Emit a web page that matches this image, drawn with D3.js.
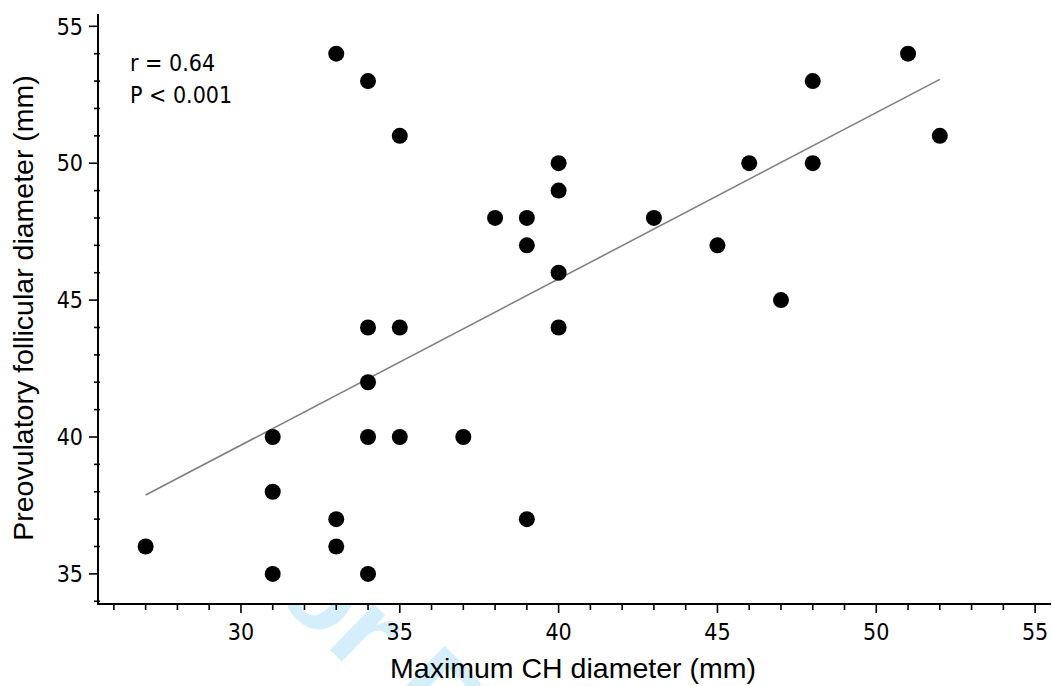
<!DOCTYPE html>
<html>
<head>
<meta charset="utf-8">
<script src="https://cdn.jsdelivr.net/npm/d3@7"></script>
<style>
  html, body { margin: 0; padding: 0; background: #fff; }
  svg { display: block; }
  .tick-lbl { font-family: "DejaVu Sans Condensed", "DejaVu Sans", sans-serif; font-stretch: condensed; font-size: 23px; fill: #000; }
  .axis-title { font-family: "Liberation Sans", Arial, sans-serif; font-size: 28.5px; fill: #000; }
</style>
</head>
<body>
<svg id="chart" width="1052" height="686"></svg>
<script>
// data
const chX = [27, 31, 31, 31, 33, 33, 33, 34, 34, 34, 34, 34, 35, 35, 35, 37,
             38, 39, 39, 39, 40, 40, 40, 40, 43, 45, 46, 47, 48, 48, 51, 52];
const follY = [36, 40, 38, 35, 54, 37, 36, 53, 44, 42, 40, 35, 51, 44, 40, 40,
               48, 48, 47, 37, 50, 49, 46, 44, 48, 47, 50, 45, 53, 50, 54, 51];
const xTicks = [30, 35, 40, 45, 50, 55];
const yTicks = [35, 40, 45, 50, 55];
const statsLines = ['r = 0.64', 'P < 0.001'];

const W = 1052, H = 686;
const svg = d3.select('#chart');

const x = d3.scaleLinear().domain([25.5, 55.5]).range([98, 1051]);
const y = d3.scaleLinear().domain([33.9, 55.45]).range([604, 14]);

// faint watermark, only the part below the x axis shows
svg.append('clipPath').attr('id', 'wm-clip')
  .append('rect').attr('x', 0).attr('y', 605).attr('width', W).attr('height', H - 605);
const wmAngle = 44, wmSize = 120;
const wm = svg.append('g').attr('clip-path', 'url(#wm-clip)')
  .append('text')
  .attr('font-family', 'Liberation Sans, Arial, sans-serif')
  .attr('font-weight', 'bold')
  .attr('font-size', wmSize)
  .attr('fill', '#d4eefb')
  .text('For Peer Review');
// put the "r" of "For" where the reference shows it
const rOff = wm.node().getSubStringLength(0, 2) + 0.07 * wmSize;
const rad = wmAngle * Math.PI / 180;
const ox = 330 - rOff * Math.cos(rad), oy = 650 - rOff * Math.sin(rad);
wm.attr('transform', `translate(${ox},${oy}) rotate(${wmAngle})`);

// axes
const xMinor = d3.range(26, 56).filter(v => v % 5 !== 0);
const yMinor = d3.range(34, 56).filter(v => v % 5 !== 0);

const gx = svg.append('g').attr('transform', `translate(0,${y.range()[0]})`);
gx.append('line').attr('x1', x.range()[0] - 1).attr('x2', x.range()[1])
  .attr('stroke', '#000').attr('stroke-width', 2);
gx.selectAll('line.minor').data(xMinor).join('line')
  .attr('class', 'minor')
  .attr('x1', d => x(d)).attr('x2', d => x(d))
  .attr('y1', 0).attr('y2', 6)
  .attr('stroke', '#000').attr('stroke-width', 1.6);
gx.selectAll('line.major').data(xTicks).join('line')
  .attr('class', 'major')
  .attr('x1', d => x(d)).attr('x2', d => x(d))
  .attr('y1', 0).attr('y2', 9)
  .attr('stroke', '#000').attr('stroke-width', 1.6);
gx.selectAll('text').data(xTicks).join('text')
  .attr('class', 'tick-lbl')
  .attr('x', d => x(d)).attr('y', 36)
  .attr('text-anchor', 'middle')
  .text(d => d);

const gy = svg.append('g').attr('transform', `translate(${x.range()[0]},0)`);
gy.append('line').attr('y1', y.range()[1]).attr('y2', y.range()[0] + 1)
  .attr('stroke', '#000').attr('stroke-width', 2);
gy.selectAll('line.minor').data(yMinor).join('line')
  .attr('class', 'minor')
  .attr('y1', d => y(d)).attr('y2', d => y(d))
  .attr('x1', -4).attr('x2', 2)
  .attr('stroke', '#000').attr('stroke-width', 1.6);
gy.selectAll('line.major').data(yTicks).join('line')
  .attr('class', 'major')
  .attr('y1', d => y(d)).attr('y2', d => y(d))
  .attr('x1', -9).attr('x2', 0)
  .attr('stroke', '#000').attr('stroke-width', 1.6);
gy.selectAll('text').data(yTicks).join('text')
  .attr('class', 'tick-lbl')
  .attr('x', -15).attr('y', d => y(d))
  .attr('dy', '0.36em')
  .attr('text-anchor', 'end')
  .text(d => d);

// least squares fit over the data
const mx = d3.mean(chX), my = d3.mean(follY);
const sxy = d3.sum(chX, (v, i) => (v - mx) * (follY[i] - my));
const sxx = d3.sum(chX, v => (v - mx) * (v - mx));
const slope = sxy / sxx, icpt = my - slope * mx;
const [x0, x1] = d3.extent(chX);

svg.append('line')
  .attr('x1', x(x0)).attr('y1', y(icpt + slope * x0))
  .attr('x2', x(x1)).attr('y2', y(icpt + slope * x1))
  .attr('stroke', '#808080').attr('stroke-width', 1.6);

svg.append('g').selectAll('circle')
  .data(chX.map((v, i) => [v, follY[i]]))
  .join('circle')
  .attr('cx', d => x(d[0])).attr('cy', d => y(d[1]))
  .attr('r', 8).attr('fill', '#000');

// stats note
svg.append('g').selectAll('text').data(statsLines).join('text')
  .attr('class', 'tick-lbl')
  .attr('x', 130).attr('y', (d, i) => 71 + i * 32)
  .text(d => d);

// titles
svg.append('text').attr('class', 'axis-title')
  .attr('x', 573).attr('y', 678)
  .attr('text-anchor', 'middle')
  .text('Maximum CH diameter (mm)');

svg.append('text').attr('class', 'axis-title')
  .attr('transform', 'translate(33,308) rotate(-90)')
  .attr('text-anchor', 'middle')
  .text('Preovulatory follicular diameter (mm)');
</script>
</body>
</html>
